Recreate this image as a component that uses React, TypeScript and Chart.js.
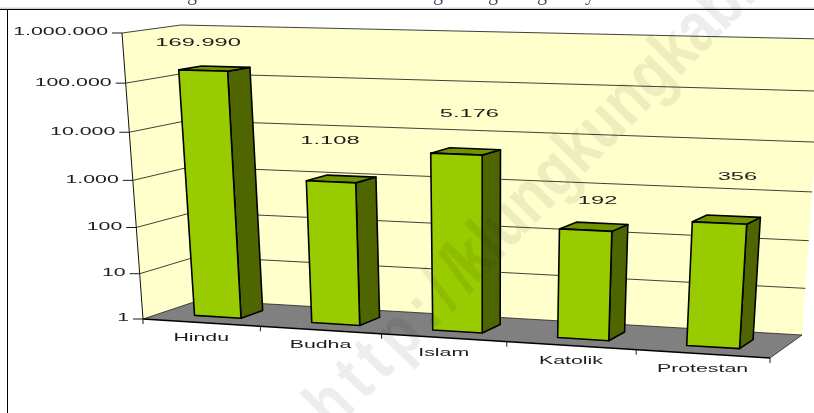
import React, { useEffect, useRef } from "react";
import { Chart, registerables } from "chart.js";

Chart.register(...registerables);

const categories = ["Hindu", "Budha", "Islam", "Katolik", "Protestan"];
const values = [169990, 1108, 5176, 192, 356];
const valueLabels = ["169.990", "1.108", "5.176", "192", "356"];
const yTickValues = [1, 10, 100, 1000, 10000, 100000, 1000000];
const yTickLabels = ["1", "10", "100", "1.000", "10.000", "100.000", "1.000.000"];
const titleGlyphs = ["g", "g", "g", "g", "y"];
const watermarkParts = ["http://", "klungkungkab.go.id"];

// manual placement of the data labels, relative to each bar's top
const labelShift: number[][] = [[-5, -28], [-1, -41], [13, -40], [12, -29], [18, -46]];
const titleGlyphX = [192, 438, 493, 542, 590];

type P = [number, number];
function homography(p0: P, p1: P, p2: P, p3: P) {
  const dx1 = p1[0] - p2[0], dx2 = p3[0] - p2[0], sx = p0[0] - p1[0] + p2[0] - p3[0];
  const dy1 = p1[1] - p2[1], dy2 = p3[1] - p2[1], sy = p0[1] - p1[1] + p2[1] - p3[1];
  const den = dx1 * dy2 - dx2 * dy1;
  const g = (sx * dy2 - dx2 * sy) / den;
  const h = (dx1 * sy - sx * dy1) / den;
  const a = p1[0] - p0[0] + g * p1[0], b = p3[0] - p0[0] + h * p3[0], c = p0[0];
  const d = p1[1] - p0[1] + g * p1[1], e = p3[1] - p0[1] + h * p3[1], f = p0[1];
  return (u: number, v: number): P => {
    const w = g * u + h * v + 1;
    return [(a * u + b * v + c) / w, (d * u + e * v + f) / w];
  };
}

// front plane and back plane of the 3D box: bottom-left, bottom-right, top-right, top-left
const frontPlane = homography([143, 319], [770, 358], [790, 48.6], [122, 33]);
const backPlane = homography([200, 300], [802, 335], [823, 39], [181, 25]);
const project = (u: number, v: number, d: number): P => {
  const F = frontPlane(u, v), B = backPlane(u, v);
  return [F[0] + (B[0] - F[0]) * d, F[1] + (B[1] - F[1]) * d];
};

const BAR_DEPTH_FRONT = 0.3;
const BAR_DEPTH_BACK = 0.7;
const FONT = '"Liberation Sans", Arial, sans-serif';

function stretchedText(ctx: CanvasRenderingContext2D, text: string, x: number, y: number, align: CanvasTextAlign, size = 10.5, sx = 2.03) {
  ctx.save();
  ctx.translate(x, y);
  ctx.scale(sx, 1);
  ctx.font = `${size}px ${FONT}`;
  ctx.fillStyle = "#1c1c1c";
  ctx.textAlign = align;
  ctx.textBaseline = "middle";
  ctx.fillText(text, 0, 0);
  ctx.restore();
}

function poly(ctx: CanvasRenderingContext2D, pts: P[], fill: string | null, stroke: string | null, lw = 1) {
  ctx.beginPath();
  pts.forEach((p, i) => (i ? ctx.lineTo(p[0], p[1]) : ctx.moveTo(p[0], p[1])));
  ctx.closePath();
  if (fill) {
    ctx.fillStyle = fill;
    ctx.fill();
  }
  if (stroke) {
    ctx.strokeStyle = stroke;
    ctx.lineWidth = lw;
    ctx.lineJoin = "round";
    ctx.stroke();
  }
}

function line(ctx: CanvasRenderingContext2D, a: P, b: P, color: string, lw = 1) {
  ctx.beginPath();
  ctx.moveTo(a[0], a[1]);
  ctx.lineTo(b[0], b[1]);
  ctx.strokeStyle = color;
  ctx.lineWidth = lw;
  ctx.stroke();
}

const box3d = {
  id: "box3d",
  beforeDatasetsDraw(chart: any) {
    const { ctx, chartArea: ca, scales } = chart;
    const yS = scales.y, xS = scales.x;
    const U = (px: number) => (px - ca.left) / (ca.right - ca.left);
    const V = (py: number) => (ca.bottom - py) / (ca.bottom - ca.top);
    ctx.save();

    // page furniture
    ctx.fillStyle = "#ffffff";
    ctx.fillRect(0, 0, chart.width, chart.height);
    ctx.font = `20px "Liberation Serif", serif`;
    ctx.fillStyle = "#4a4270";
    ctx.textAlign = "center";
    ctx.textBaseline = "alphabetic";
    titleGlyphs.forEach((g, i) => ctx.fillText(g, titleGlyphX[i], -0.5));
    line(ctx, [0, 8.2], [814, 8.2], "#b9b9b9", 1);
    line(ctx, [0, 9.5], [814, 9.5], "#000000", 1);
    line(ctx, [7.5, 9], [7.5, 413], "#000000", 1);

    // walls and floor
    const fl = (u: number, v: number) => project(u, v, 0);
    const bk = (u: number, v: number) => project(u, v, 1);
    poly(ctx, [bk(0, 0), bk(1, 0), bk(1, 1), bk(0, 1)], "#ffffcc", null);
    poly(ctx, [fl(0, 0), bk(0, 0), bk(0, 1), fl(0, 1)], "#ffffcc", null);
    poly(ctx, [fl(0, 0), fl(1, 0), bk(1, 0), bk(0, 0)], "#808080", null);

    // gridlines and y ticks
    yTickValues.forEach((t, i) => {
      const v = V(yS.getPixelForValue(t));
      const a = fl(0, v), b = bk(0, v), c = bk(1, v);
      if (i > 0) {
        line(ctx, a, b, "#2a2a2a", 0.9);
        line(ctx, b, c, "#2a2a2a", 0.9);
      }
      line(ctx, [a[0] - 10, a[1]], a, "#1a1a1a", 1);
      stretchedText(ctx, yTickLabels[i], a[0] - 14, a[1] - 0.5, "right");
    });
    line(ctx, fl(0, 0), fl(0, 1), "#111111", 1);

    // floor edges
    line(ctx, bk(0, 0), bk(1, 0), "#222222", 0.8);
    line(ctx, fl(1, 0), bk(1, 0), "#222222", 0.8);
    line(ctx, fl(0, 0), bk(0, 0), "#222222", 0.8);
    line(ctx, fl(0, 0), fl(1, 0), "#000000", 1.4);

    // x ticks and labels
    for (let i = 0; i <= categories.length; i++) {
      const p = fl(i / categories.length, 0);
      line(ctx, p, [p[0], p[1] + 5], "#1a1a1a", 1);
    }
    categories.forEach((c, i) => {
      const p = fl(U(xS.getPixelForValue(i)), 0);
      stretchedText(ctx, c, p[0], p[1] + 15.5, "center");
    });
    ctx.restore();
  },
  beforeDatasetDraw() {
    return false; // bars are drawn projected in afterDatasetsDraw
  },
  afterDatasetsDraw(chart: any) {
    const { ctx, chartArea: ca } = chart;
    const U = (px: number) => (px - ca.left) / (ca.right - ca.left);
    const V = (py: number) => (ca.bottom - py) / (ca.bottom - ca.top);
    ctx.save();
    chart.getDatasetMeta(0).data.forEach((bar: any, i: number) => {
      const { x, y, base, width } = bar.getProps(["x", "y", "base", "width"], true);
      const u0 = U(x - width / 2), u1 = U(x + width / 2);
      const vT = V(y), vB = V(base);
      const d0 = BAR_DEPTH_FRONT, d1 = BAR_DEPTH_BACK;
      const outline = "#000000";
      poly(ctx, [project(u1, vB, d0), project(u1, vB, d1), project(u1, vT, d1), project(u1, vT, d0)], "#4f6600", outline, 1.6);
      poly(ctx, [project(u0, vT, d0), project(u1, vT, d0), project(u1, vT, d1), project(u0, vT, d1)], "#709400", outline, 1.6);
      poly(ctx, [project(u0, vB, d0), project(u1, vB, d0), project(u1, vT, d0), project(u0, vT, d0)], "#99cc00", outline, 1.6);
      const c = project((u0 + u1) / 2, vT, d0);
      stretchedText(ctx, valueLabels[i], c[0] + labelShift[i][0], c[1] + labelShift[i][1], "center", 11.5, 2.06);
    });
    ctx.restore();
  },
  afterDraw(chart: any) {
    const { ctx } = chart;
    const stamp = (text: string, x: number, y: number, spacing: string) => {
      ctx.save();
      ctx.globalCompositeOperation = "multiply";
      ctx.translate(x, y);
      ctx.rotate((-45.5 * Math.PI) / 180);
      ctx.scale(0.82, 1);
      ctx.font = `bold 70px ${FONT}`;
      ctx.letterSpacing = spacing;
      ctx.fillStyle = "#ededed";
      ctx.textAlign = "left";
      ctx.textBaseline = "alphabetic";
      ctx.fillText(text, 0, 0);
      ctx.restore();
    };
    stamp(watermarkParts[0], 333, 432, "10px");
    stamp(watermarkParts[1], 475, 285, "0px");
  },
};

export default function App() {
  const ref = useRef<HTMLCanvasElement>(null);
  useEffect(() => {
    document.body.style.margin = "0";
    const chart = new Chart(ref.current!, {
      type: "bar",
      data: {
        labels: categories,
        datasets: [{ label: "Jumlah", data: values, backgroundColor: "#99cc00", barPercentage: 0.4, categoryPercentage: 1 }],
      },
      options: {
        animation: false,
        responsive: false,
        layout: { padding: 0 },
        plugins: { legend: { display: false }, tooltip: { enabled: false }, title: { display: false } },
        scales: {
          x: { display: false, offset: true },
          y: { display: false, type: "logarithmic", min: 1, max: 1000000 },
        },
      },
      plugins: [box3d],
    } as any);
    return () => chart.destroy();
  }, []);
  return <canvas ref={ref} width={814} height={413} style={{ display: "block", position: "absolute", left: 0, top: 0 }} />;
}
